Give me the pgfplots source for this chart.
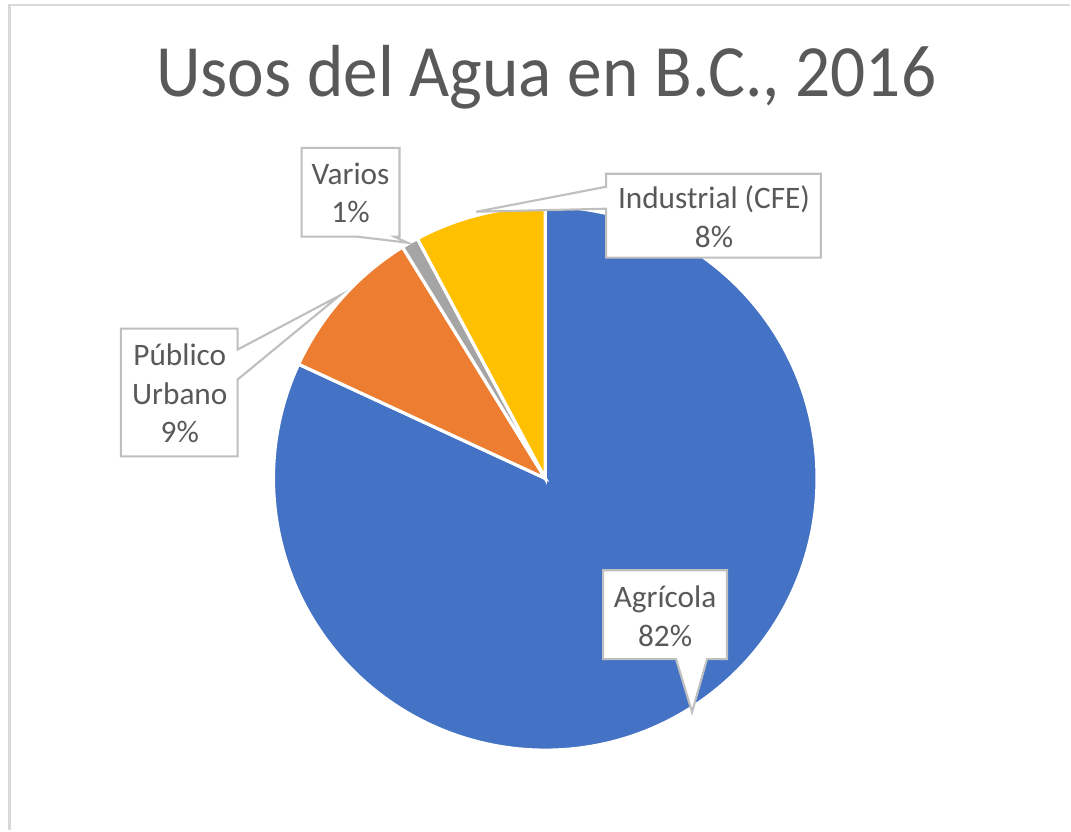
\documentclass[border=0pt]{standalone}
\usepackage{pgfplots}
\pgfplotsset{compat=1.18}
\usepackage{pgfplotstable}
\usepackage{graphicx}
\usepackage{fontspec}
\setmainfont{Carlito}
\definecolor{cA}{HTML}{4472C4}
\definecolor{cB}{HTML}{ED7D31}
\definecolor{cC}{HTML}{A5A5A5}
\definecolor{cD}{HTML}{FFC000}
\definecolor{txt}{HTML}{595959}
\definecolor{boxgray}{HTML}{BFBFBF}
\definecolor{frame}{HTML}{D9D9D9}
\pgfplotstableread{
name value
Agricola 81.9
Publico 9.3
Varios 1.0
Industrial 7.8
}\piedata
\newcommand{\lbl}{\fontsize{8.9}{11}\selectfont}
\begin{document}
\begin{tikzpicture}
\pgfplotstablegetelem{0}{value}\of\piedata \let\vA\pgfplotsretval
\pgfplotstablegetelem{1}{value}\of\piedata \let\vB\pgfplotsretval
\pgfplotstablegetelem{2}{value}\of\piedata \let\vC\pgfplotsretval
\pgfplotstablegetelem{3}{value}\of\piedata \let\vD\pgfplotsretval
\pgfmathsetmacro\aA{90}
\pgfmathsetmacro\aB{\aA-3.6*\vA}
\pgfmathsetmacro\aC{\aB-3.6*\vB}
\pgfmathsetmacro\aD{\aC-3.6*\vC}
\pgfmathsetmacro\aE{\aD-3.6*\vD}
\begin{axis}[x=0.01cm, y=0.01cm, y dir=reverse,
  xmin=0, xmax=1071, ymin=0, ymax=831,
  hide axis, clip=false]
\path (axis cs:0,0) rectangle (axis cs:1071,831);
% frame
\draw[frame, line width=0.85pt] (axis cs:10,831) -- (axis cs:10,5) -- (axis cs:1071,5);
% slices
\fill[cA, draw=white, line width=0.9pt] (axis cs:546,479) -- ++(\aA:2.72cm) arc[start angle=\aA, end angle=\aB, radius=2.72cm] -- cycle;
\fill[cB, draw=white, line width=0.9pt] (axis cs:546,479) -- ++(\aB:2.72cm) arc[start angle=\aB, end angle=\aC, radius=2.72cm] -- cycle;
\fill[cC, draw=white, line width=0.9pt] (axis cs:546,479) -- ++(\aC:2.72cm) arc[start angle=\aC, end angle=\aD, radius=2.72cm] -- cycle;
\fill[cD, draw=white, line width=0.9pt] (axis cs:546,479) -- ++(\aD:2.72cm) arc[start angle=\aD, end angle=\aE, radius=2.72cm] -- cycle;
% callouts
\draw[boxgray, fill=white, line width=0.6pt] (axis cs:302,148) -- (axis cs:400,148) -- (axis cs:400,237) -- (axis cs:395,237) -- (axis cs:408,243) -- (axis cs:358,237) -- (axis cs:302,237) -- cycle;
\draw[boxgray, fill=white, line width=0.6pt] (axis cs:121,329) -- (axis cs:238,329) -- (axis cs:238,350) -- (axis cs:340,296) -- (axis cs:238,380) -- (axis cs:238,457) -- (axis cs:121,457) -- cycle;
\draw[boxgray, fill=white, line width=0.6pt] (axis cs:607,174) -- (axis cs:822,174) -- (axis cs:822,258) -- (axis cs:607,258) -- (axis cs:607,209) -- (axis cs:477,212) -- (axis cs:607,187) -- cycle;
\draw[boxgray, fill=white, line width=0.6pt] (axis cs:604,571) -- (axis cs:728,571) -- (axis cs:728,660) -- (axis cs:708,660) -- (axis cs:693,713) -- (axis cs:677,660) -- (axis cs:604,660) -- cycle;
% labels
\node[font=\lbl, text=txt, align=center] at (axis cs:351,193) {Varios\\1\%};
\node[font=\lbl, text=txt, align=center] at (axis cs:180,394) {Público\\Urbano\\9\%};
\node[font=\lbl, text=txt, align=center] at (axis cs:715,217) {Industrial (CFE)\\8\%};
\node[font=\lbl, text=txt, align=center] at (axis cs:666,617) {Agrícola\\82\%};
% title
\node[font=\fontsize{21}{25}\selectfont, text=txt, anchor=base] at (axis cs:547,97) {\scalebox{0.94}[1]{Usos del Agua en B.C., 2016}};
\end{axis}
\end{tikzpicture}
\end{document}
